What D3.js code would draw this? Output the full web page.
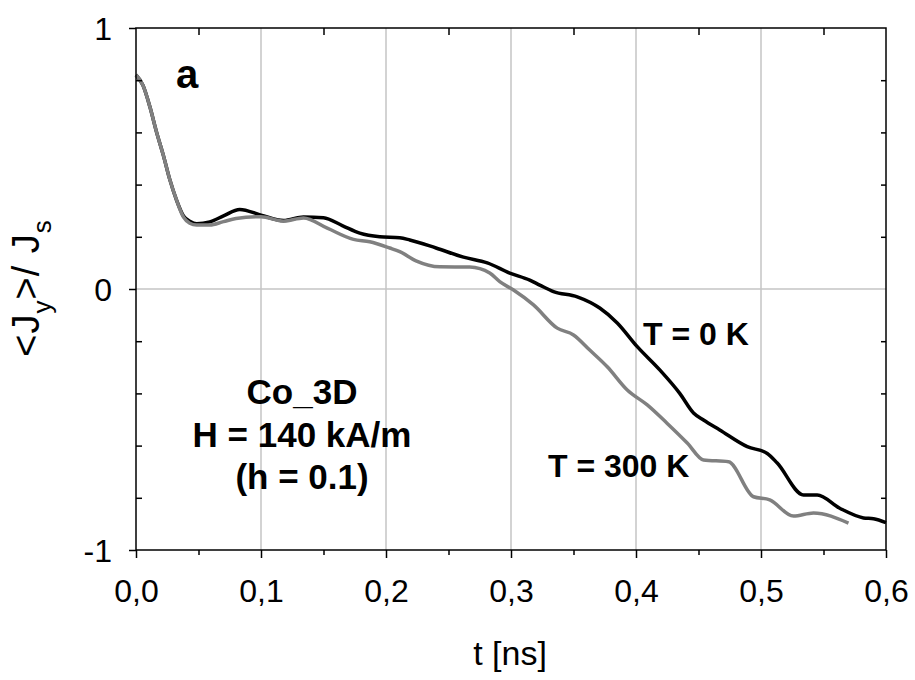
<!DOCTYPE html>
<html>
<head>
<meta charset="utf-8">
<script src="https://cdnjs.cloudflare.com/ajax/libs/d3/7.8.5/d3.min.js"></script>
<style>
  body { margin: 0; background: #fff; }
  text { font-family: "Liberation Sans", Arial, sans-serif; }
</style>
</head>
<body>
<div id="chart"></div>
<script>
// T = 0 K curve
let time0K = [0, 0.0056, 0.011, 0.0165, 0.022, 0.027, 0.0325, 0.038, 0.043, 0.0485, 0.059, 0.07, 0.083, 0.1,
    0.118, 0.134, 0.15, 0.165, 0.179, 0.195, 0.211, 0.219, 0.24, 0.262, 0.281, 0.299, 0.315, 0.323, 0.334,
    0.353, 0.371, 0.385, 0.401, 0.419, 0.435, 0.446, 0.454, 0.467, 0.489, 0.505, 0.513, 0.534, 0.545, 0.563,
    0.582, 0.59, 0.6];
let jy0K = [0.82, 0.78, 0.70, 0.60, 0.51, 0.42, 0.34, 0.28, 0.26, 0.25, 0.257, 0.28, 0.305, 0.283,
    0.262, 0.276, 0.273, 0.243, 0.214, 0.2, 0.196, 0.188, 0.157, 0.122, 0.1, 0.061, 0.034, 0.015, -0.01,
    -0.03, -0.073, -0.13, -0.221, -0.31, -0.4, -0.475, -0.502, -0.54, -0.604, -0.63, -0.667, -0.789, -0.789, -0.84,
    -0.877, -0.88, -0.895];

// T = 300 K curve
let time300K = [0, 0.0056, 0.011, 0.0165, 0.022, 0.027, 0.0325, 0.038, 0.043, 0.0485, 0.059, 0.07, 0.08, 0.1,
    0.118, 0.134, 0.153, 0.174, 0.187, 0.203, 0.211, 0.224, 0.243, 0.267, 0.283, 0.291, 0.302, 0.318, 0.337,
    0.35, 0.363, 0.377, 0.393, 0.409, 0.425, 0.441, 0.454, 0.474, 0.494, 0.507, 0.526, 0.542, 0.57];
let jy300K = [0.82, 0.78, 0.70, 0.60, 0.51, 0.42, 0.34, 0.275, 0.252, 0.245, 0.245, 0.258, 0.27, 0.277,
    0.26, 0.272, 0.233, 0.19, 0.181, 0.157, 0.143, 0.108, 0.085, 0.084, 0.061, 0.028, -0.004, -0.061, -0.15,
    -0.176, -0.234, -0.298, -0.387, -0.444, -0.515, -0.59, -0.655, -0.662, -0.796, -0.808, -0.87, -0.858, -0.897];

let xTicks = [0, 0.1, 0.2, 0.3, 0.4, 0.5, 0.6];
let xTickLabels = ["0,0", "0,1", "0,2", "0,3", "0,4", "0,5", "0,6"];
let xMinor = [0.05, 0.15, 0.25, 0.35, 0.45, 0.55];
let yTicks = [-1, 0, 1];
let yTickLabels = ["-1", "0", "1"];
let yMinor = [-0.8, -0.6, -0.4, -0.2, 0.2, 0.4, 0.6, 0.8];

function main(){
    let width = 915;
    let height = 680;
    let left = 136, right = 886, top = 28, bottom = 550;

    let svg = d3.select("#chart").append("svg")
        .attr("width", width)
        .attr("height", height);

    let xScale = d3.scaleLinear().domain([0, 0.6]).range([left, right]);
    let yScale = d3.scaleLinear().domain([-1, 1]).range([bottom, top]);

    // grid
    svg.append("g")
        .selectAll("line")
        .data(xTicks.slice(1, -1))
        .enter()
        .append("line")
        .attr("x1", d => xScale(d)).attr("x2", d => xScale(d))
        .attr("y1", top).attr("y2", bottom)
        .attr("stroke", "#c4c4c4")
        .attr("stroke-width", 1.5);

    svg.append("line")
        .attr("x1", left).attr("x2", right)
        .attr("y1", yScale(0)).attr("y2", yScale(0))
        .attr("stroke", "#c4c4c4")
        .attr("stroke-width", 1.5);

    // curves
    let line = d3.line()
        .x(d => xScale(d[0]))
        .y(d => yScale(d[1]))
        .curve(d3.curveMonotoneX);

    svg.append("path")
        .attr("d", line(time0K.map((t, i) => [t, jy0K[i]])))
        .attr("stroke", "black")
        .attr("stroke-width", 3.5)
        .attr("fill", "none");

    svg.append("path")
        .attr("d", line(time300K.map((t, i) => [t, jy300K[i]])))
        .attr("stroke", "#808080")
        .attr("stroke-width", 3.5)
        .attr("fill", "none");

    // frame
    svg.append("rect")
        .attr("x", left).attr("y", top)
        .attr("width", right - left).attr("height", bottom - top)
        .attr("fill", "none")
        .attr("stroke", "black")
        .attr("stroke-width", 1.5);

    // bottom axis
    let xAxis = svg.append("g")
        .attr("transform", "translate(0," + bottom + ")")
        .call(d3.axisBottom(xScale).tickValues(xTicks).tickSize(8)
            .tickFormat((d, i) => xTickLabels[i]));
    xAxis.select(".domain").remove();
    xAxis.selectAll("line").attr("stroke-width", 1.5);
    xAxis.selectAll("text")
        .attr("y", 52).attr("dy", null)
        .attr("font-size", 32)
        .attr("font-family", "Liberation Sans, Arial, sans-serif");

    let xMinorAxis = svg.append("g")
        .attr("transform", "translate(0," + bottom + ")")
        .call(d3.axisBottom(xScale).tickValues(xMinor).tickSize(5).tickFormat(""));
    xMinorAxis.select(".domain").remove();
    xMinorAxis.selectAll("line").attr("stroke-width", 1.5);

    // top minor ticks
    let topAxis = svg.append("g")
        .attr("transform", "translate(0," + top + ")")
        .call(d3.axisBottom(xScale).tickValues(xMinor).tickSize(7).tickFormat(""));
    topAxis.select(".domain").remove();
    topAxis.selectAll("line").attr("stroke-width", 1.5);

    // left axis
    let yAxis = svg.append("g")
        .attr("transform", "translate(" + left + ",0)")
        .call(d3.axisLeft(yScale).tickValues(yTicks).tickSize(7)
            .tickFormat((d, i) => yTickLabels[i]));
    yAxis.select(".domain").remove();
    yAxis.selectAll("line").attr("stroke-width", 1.5);
    yAxis.selectAll("text")
        .attr("x", -24)
        .attr("dy", "0.36em")
        .attr("font-size", 32)
        .attr("font-family", "Liberation Sans, Arial, sans-serif");

    let yMinorAxis = svg.append("g")
        .attr("transform", "translate(" + left + ",0)")
        .call(d3.axisRight(yScale).tickValues(yMinor).tickSize(6).tickFormat(""));
    yMinorAxis.select(".domain").remove();
    yMinorAxis.selectAll("line").attr("stroke-width", 1.5);

    // right minor ticks
    let rightAxis = svg.append("g")
        .attr("transform", "translate(" + right + ",0)")
        .call(d3.axisLeft(yScale).tickValues(yMinor).tickSize(5).tickFormat(""));
    rightAxis.select(".domain").remove();
    rightAxis.selectAll("line").attr("stroke-width", 1.5);

    // axis titles
    svg.append("text")
        .attr("x", 510)
        .attr("y", 665)
        .attr("text-anchor", "middle")
        .attr("font-size", 34)
        .text("t [ns]");

    let yTitle = svg.append("text")
        .attr("transform", "translate(39,288) rotate(-90)")
        .attr("text-anchor", "middle")
        .attr("letter-spacing", 1)
        .attr("font-size", 38);
    yTitle.append("tspan").text("<J");
    yTitle.append("tspan").attr("font-size", 26).attr("dy", 12).text("y");
    yTitle.append("tspan").attr("dy", -12).text(">/ J");
    yTitle.append("tspan").attr("font-size", 26).attr("dy", 12).text("s");

    // annotations
    svg.append("text")
        .attr("x", xScale(0.032))
        .attr("y", yScale(0.77))
        .attr("font-size", 40)
        .attr("font-weight", "bold")
        .text("a");

    svg.append("text")
        .attr("x", xScale(0.4056))
        .attr("y", yScale(-0.215))
        .attr("font-size", 32)
        .attr("font-weight", "bold")
        .text("T = 0 K");

    svg.append("text")
        .attr("x", xScale(0.3296))
        .attr("y", yScale(-0.72))
        .attr("font-size", 32)
        .attr("font-weight", "bold")
        .text("T = 300 K");

    let block = ["Co_3D", "H = 140 kA/m", "(h = 0.1)"];
    svg.append("g")
        .selectAll("text")
        .data(block)
        .enter()
        .append("text")
        .attr("x", xScale(0.1328))
        .attr("y", (d, i) => 404 + i * 42.5)
        .attr("text-anchor", "middle")
        .attr("font-size", 35)
        .attr("font-weight", "bold")
        .text(d => d);
}

main();
</script>
</body>
</html>
